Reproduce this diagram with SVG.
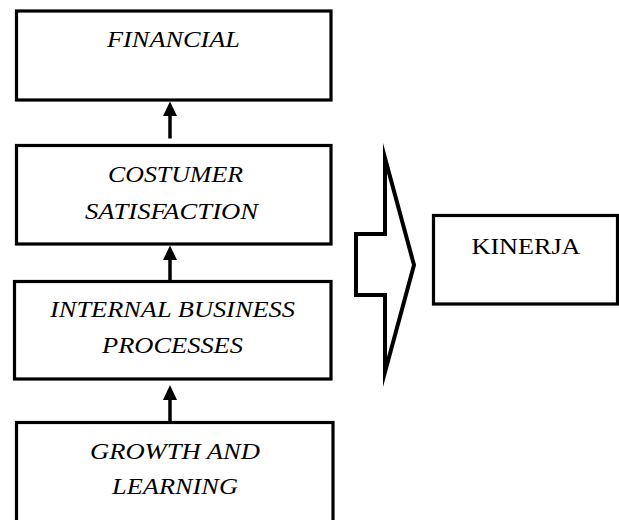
<svg xmlns="http://www.w3.org/2000/svg" width="619" height="520" viewBox="0 0 619 520">
  <style>
    .box { fill: #ffffff; stroke: #000000; stroke-width: 3.2; }
    .lbl { font-family: "Liberation Serif", "Times New Roman", serif; font-size: 23px; font-style: italic; fill: #000000; text-anchor: middle; }
    .plain { font-style: normal; }
    .shaft { stroke: #000000; stroke-width: 3.5; fill: none; }
    .head { fill: #000000; stroke: none; }
    .block { fill: #ffffff; stroke: #000000; stroke-width: 4; stroke-linejoin: miter; stroke-miterlimit: 10; }
  </style>

  <g id="financial">
    <rect class="box" x="16.5" y="11" width="314.5" height="89"/>
    <text class="lbl" x="173.5" y="46.5" textLength="133" lengthAdjust="spacingAndGlyphs">FINANCIAL</text>
  </g>

  <g id="costumer-satisfaction">
    <rect class="box" x="16.5" y="145.5" width="314.5" height="98.5"/>
    <text class="lbl" x="175.5" y="181.5" textLength="135" lengthAdjust="spacingAndGlyphs">COSTUMER</text>
    <text class="lbl" x="171.5" y="218.5" textLength="173" lengthAdjust="spacingAndGlyphs">SATISFACTION</text>
  </g>

  <g id="internal-business-processes">
    <rect class="box" x="14.5" y="281.5" width="316.5" height="97.5"/>
    <text class="lbl" x="172.5" y="316.5" textLength="245" lengthAdjust="spacingAndGlyphs">INTERNAL BUSINESS</text>
    <text class="lbl" x="172.5" y="352.5" textLength="141" lengthAdjust="spacingAndGlyphs">PROCESSES</text>
  </g>

  <g id="growth-and-learning">
    <rect class="box" x="16.5" y="422.5" width="316.5" height="110"/>
    <text class="lbl" x="175" y="458.5" textLength="170" lengthAdjust="spacingAndGlyphs">GROWTH AND</text>
    <text class="lbl" x="175" y="493.5" textLength="126" lengthAdjust="spacingAndGlyphs">LEARNING</text>
  </g>

  <g id="kinerja">
    <rect class="box" x="433.5" y="215.5" width="184" height="88.5"/>
    <text class="lbl plain" x="526" y="253.5" textLength="109" lengthAdjust="spacingAndGlyphs">KINERJA</text>
  </g>

  <g id="result-arrow">
    <polygon class="block" points="385,158 414,265 385,372 385,295 356,295 356,234 385,234"/>
  </g>

  <g id="connectors">
    <line class="shaft" x1="170" y1="138.5" x2="170" y2="114"/>
    <polygon class="head" points="170,101.5 163,116 177,116"/>
    <line class="shaft" x1="170" y1="280" x2="170" y2="258"/>
    <polygon class="head" points="170,245.5 163,260 177,260"/>
    <line class="shaft" x1="170" y1="421.5" x2="170" y2="398"/>
    <polygon class="head" points="170,385 163,400 177,400"/>
  </g>
</svg>
